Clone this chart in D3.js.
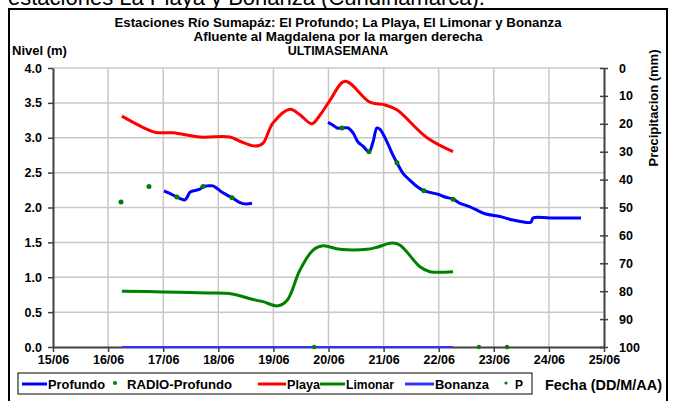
<!DOCTYPE html>
<html><head><meta charset="utf-8">
<script src="https://cdn.jsdelivr.net/npm/d3@7"></script>
<style>
html,body{margin:0;padding:0;background:#fff;}
svg text{font-family:"Liberation Sans",Arial,sans-serif;}
</style></head>
<body><svg id="c" width="674" height="401"></svg>
<script>
// ---- data ----
const dayTicks = [15,16,17,18,19,20,21,22,23,24,25];
const dayLabels = ["15/06","16/06","17/06","18/06","19/06","20/06","21/06","22/06","23/06","24/06","25/06"];
const nivelTicks = [0,0.5,1,1.5,2,2.5,3,3.5,4];
const precipTicks = [0,10,20,30,40,50,60,70,80,90,100];

const profundoDias = [17.015,17.10,17.25,17.33,17.396,17.45,17.486,17.55,17.613,17.68,17.722,17.8,17.904,18.0,18.085,18.249,18.394,18.5,18.612,
  null,
  19.991,20.082,20.16,20.245,20.354,20.445,20.535,20.626,20.735,20.808,20.88,20.935,21.062,21.152,21.243,21.352,21.479,21.624,21.733,21.878,21.987,22.114,22.26,22.387,22.568,22.84,23.113,23.348,23.675,23.711,24.02,24.583];
const profundoNivel = [2.24,2.21,2.15,2.12,2.11,2.17,2.22,2.24,2.25,2.27,2.30,2.31,2.31,2.26,2.21,2.14,2.07,2.05,2.06,
  null,
  3.22,3.18,3.14,3.14,3.14,3.07,2.94,2.88,2.80,2.94,3.14,3.12,2.94,2.78,2.64,2.49,2.39,2.29,2.24,2.21,2.19,2.15,2.12,2.06,2.01,1.91,1.87,1.82,1.79,1.85,1.85,1.85];

const radioDias = [16.234,16.742,17.25,17.722,18.249,20.245,20.735,21.243,21.733,22.26];
const radioNivel = [2.08,2.30,2.15,2.30,2.14,3.14,2.80,2.64,2.24,2.12];

const playaDias = [16.25,16.63,16.85,17.18,17.67,18.21,18.39,18.67,18.81,18.99,19.30,19.48,19.70,19.85,20.03,20.30,20.75,21.03,21.24,21.79,22.26];
const playaNivel = [3.31,3.15,3.08,3.07,3.01,3.01,2.95,2.88,2.92,3.21,3.41,3.33,3.20,3.33,3.54,3.81,3.51,3.47,3.40,3.00,2.80];

const limonarDias = [16.25,17.0,17.8,18.25,18.63,18.81,19.08,19.25,19.48,19.72,19.90,20.21,20.70,20.88,21.15,21.30,21.66,21.84,22.26];
const limonarNivel = [0.80,0.79,0.775,0.76,0.68,0.65,0.59,0.67,1.10,1.39,1.45,1.40,1.40,1.43,1.49,1.46,1.15,1.08,1.08];

const bonanzaDias = [16.25,22.26];
const bonanzaNivel = [0,0];

const pDias = [19.74,22.73,23.24];
const pValores = [100,100,100];

const legendItems = [
  {name:"Profundo", type:"line", color:"#0000ff"},
  {name:"RADIO-Profundo", type:"dot", color:"#008000"},
  {name:"Playa", type:"line", color:"#ff0000"},
  {name:"Limonar", type:"line", color:"#008000"},
  {name:"Bonanza", type:"line", color:"#3333ff"},
  {name:"P", type:"dot", color:"#008000"}
];

// ---- layout ----
const svg = d3.select("#c");
const L = 53, R = 604, T = 68, B = 347;
const x = d3.scaleLinear().domain([15,25]).range([L,R]);
const y = d3.scaleLinear().domain([0,4]).range([B,T]);
const y2 = d3.scaleLinear().domain([0,100]).range([T,B]);

// document text above frame (clipped, as in the source page)
svg.append("text").attr("x",8).attr("y",5).attr("font-size",22).attr("fill","#000")
  .text("estaciones La Playa y Bonanza (Cundinamarca).");

// frame
svg.append("rect").attr("x",9).attr("y",9).attr("width",658).attr("height",410)
  .attr("fill","none").attr("stroke","#000").attr("stroke-width",2);

// titles
const titles = ["Estaciones Río Sumapáz: El Profundo; La Playa, El Limonar y Bonanza",
                "Afluente al Magdalena por la margen derecha","ULTIMASEMANA"];
const titleLen = [447,289,null];
titles.forEach((t,i)=>{
  const tx = svg.append("text").attr("x",338).attr("y",27+i*14).attr("text-anchor","middle")
    .attr("font-size",12.5).attr("font-weight","bold").text(t);
  if(titleLen[i]) tx.attr("textLength",titleLen[i]).attr("lengthAdjust","spacingAndGlyphs");
});
svg.append("text").attr("x",12).attr("y",55).attr("font-size",13).attr("font-weight","bold").text("Nivel (m)");
svg.append("text").attr("transform","translate(658,108) rotate(-90)").attr("text-anchor","middle")
  .attr("font-size",13).attr("font-weight","bold").text("Precipitacion (mm)");

// grid
const g = svg.append("g");
g.selectAll(".hg").data(nivelTicks.filter(v=>v>0)).join("line")
  .attr("x1",L).attr("x2",R).attr("y1",d=>y(d)).attr("y2",d=>y(d))
  .attr("stroke","#c8c8c8").attr("stroke-width",1.5);
g.selectAll(".vg").data(dayTicks.filter(v=>v>15 && v<25)).join("line")
  .attr("x1",d=>x(d)).attr("x2",d=>x(d)).attr("y1",T).attr("y2",B)
  .attr("stroke","#c8c8c8").attr("stroke-width",1.5);

// axes
const axColor = "#404040";
function styleAxis(sel){
  sel.select(".domain").attr("stroke",axColor).attr("stroke-width",2);
  sel.selectAll(".tick line").attr("stroke",axColor).attr("stroke-width",1.5);
  sel.selectAll(".tick text").attr("font-size",12.5).attr("font-weight","bold")
     .attr("font-family","Liberation Sans, Arial, sans-serif").attr("fill","#000");
}
const ax = svg.append("g").attr("transform",`translate(0,${B})`)
  .call(d3.axisBottom(x).tickValues(dayTicks).tickFormat((d,i)=>dayLabels[i]).tickSize(5).tickSizeOuter(0).tickPadding(3));
styleAxis(ax);
const ayl = svg.append("g").attr("transform",`translate(${L},0)`)
  .call(d3.axisLeft(y).tickValues(nivelTicks).tickFormat(d3.format(".1f")).tickSize(5).tickSizeOuter(0).tickPadding(6));
styleAxis(ayl);
const ayr = svg.append("g").attr("transform",`translate(${R},0)`)
  .call(d3.axisRight(y2).tickValues(precipTicks).tickSize(4).tickSizeOuter(0).tickPadding(11));
styleAxis(ayr);
ayr.selectAll(".tick line").attr("x1",-4).attr("x2",4);

// series
const mk = (xs,ys)=>xs.map((d,i)=>({x:d,y:ys[i]}));
const lineC = d3.line().defined(d=>d.x!=null).x(d=>x(d.x)).y(d=>y(d.y)).curve(d3.curveCatmullRom.alpha(0.5));
const lineL = d3.line().defined(d=>d.x!=null).x(d=>x(d.x)).y(d=>y(d.y));

svg.append("path").datum(mk(bonanzaDias,bonanzaNivel)).attr("d",lineL)
  .attr("fill","none").attr("stroke","#3333ff").attr("stroke-width",2);
svg.append("path").datum(mk(limonarDias,limonarNivel)).attr("d",lineC)
  .attr("fill","none").attr("stroke","#008000").attr("stroke-width",3);
svg.append("path").datum(mk(playaDias,playaNivel)).attr("d",lineC)
  .attr("fill","none").attr("stroke","#ff0000").attr("stroke-width",3);
svg.append("path").datum(mk(profundoDias,profundoNivel)).attr("d",lineC)
  .attr("fill","none").attr("stroke","#0000ff").attr("stroke-width",3).attr("stroke-linejoin","round");
svg.selectAll(".radio").data(mk(radioDias,radioNivel)).join("circle")
  .attr("cx",d=>x(d.x)).attr("cy",d=>y(d.y)).attr("r",2.5).attr("fill","#008000");
svg.selectAll(".pp").data(mk(pDias,pValores)).join("circle")
  .attr("cx",d=>x(d.x)).attr("cy",d=>y2(d.y)).attr("r",2.2).attr("fill","#008000");

// legend
svg.append("rect").attr("x",18).attr("y",373).attr("width",514).attr("height",21)
  .attr("fill","#fff").attr("stroke","#000").attr("stroke-width",1);
const legMark = [22,115,258,320,405,506];
const legText = [48,127,287,346,435,515];
const legLen = [57,105,33,48,54,8];
legendItems.forEach((it,i)=>{
  const lx = legMark[i], ly = 384;
  if(it.type==="line"){
    svg.append("line").attr("x1",lx).attr("x2",legText[i]-1).attr("y1",ly).attr("y2",ly)
      .attr("stroke",it.color).attr("stroke-width",3);
  } else {
    svg.append("circle").attr("cx",lx).attr("cy",ly-1).attr("r",it.name==="P"?1.6:2).attr("fill",it.color);
  }
  svg.append("text").attr("x",legText[i]).attr("y",ly+4.5).attr("font-size",12)
    .attr("font-weight","bold").attr("textLength",legLen[i]).attr("lengthAdjust","spacingAndGlyphs").text(it.name);
});
svg.append("text").attr("x",545).attr("y",390).attr("font-size",14).attr("font-weight","bold")
  .attr("textLength",117).attr("lengthAdjust","spacingAndGlyphs").text("Fecha (DD/M/AA)");
</script></body></html>
